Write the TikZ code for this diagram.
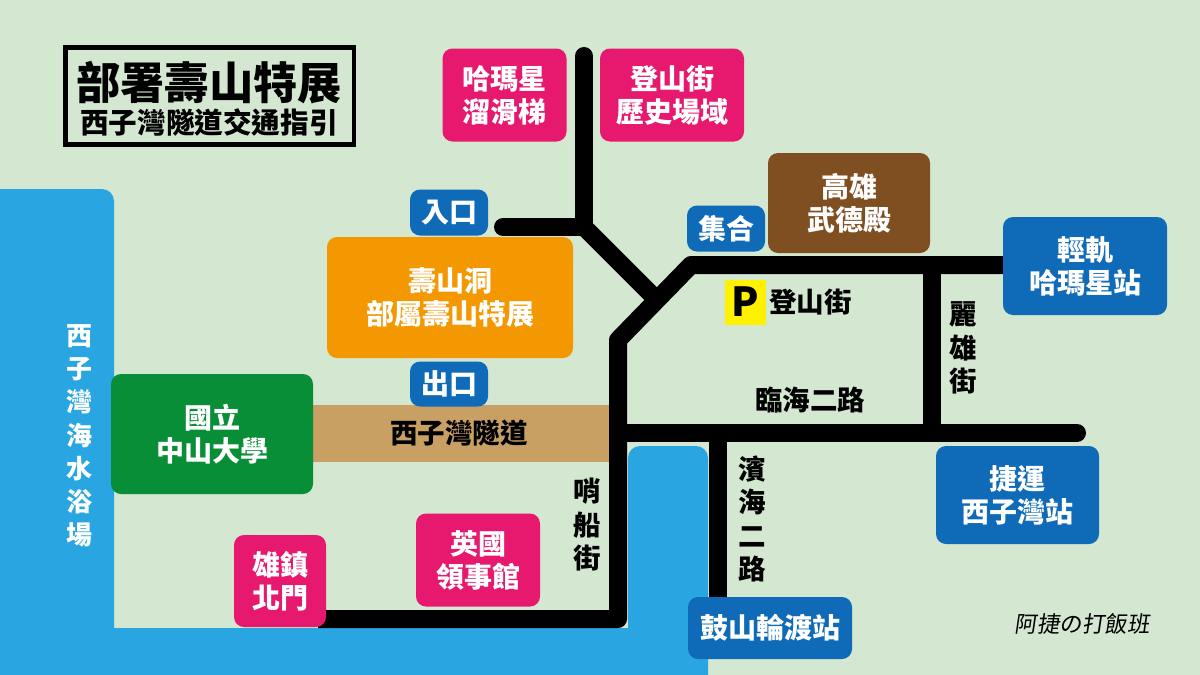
\documentclass[tikz,border=0pt]{standalone}
\usepackage{fontspec}
\setmainfont{Noto Sans CJK TC}
\newfontfamily\signfont[FakeSlant=0.15]{Noto Sans CJK TC}
\usetikzlibrary{backgrounds, positioning}
\definecolor{landcol}{HTML}{D3E7D1}
\definecolor{seacol}{HTML}{29A6E1}
\definecolor{pinkcol}{HTML}{E6196F}
\definecolor{bluecol}{HTML}{0F6BB8}
\definecolor{browncol}{HTML}{7F4F21}
\definecolor{orangecol}{HTML}{F39800}
\definecolor{greencol}{HTML}{078E36}
\definecolor{tancol}{HTML}{C8A063}
\definecolor{signcol}{HTML}{FFF100}
\tikzset{
    place/.style={rounded corners=10pt, inner sep=0pt, align=center, text=white,
        font=\fontsize{28}{33}\selectfont\bfseries},
    road/.style={line width=18pt, line join=round, black},
    streetname/.style={inner sep=0pt, align=center, text=black,
        font=\fontsize{27.5}{33.5}\selectfont\bfseries}
}
\begin{document}
\begin{tikzpicture}[x=1pt, y=-1pt]
    \useasboundingbox (0, 0) rectangle (1200, 675);
    % sea and tunnel
    \begin{scope}[on background layer]
        \fill[landcol] (0, 0) rectangle (1200, 675);
        \fill[seacol, rounded corners=12pt] (-30, 675) -- (-30, 189) -- (114, 189) -- (114, 660) -- cycle;
        \fill[seacol] (0, 628) rectangle (708, 675);
        \fill[seacol, rounded corners=12pt] (628, 690) -- (628, 446) -- (708, 446) -- (708, 690) -- cycle;
        \node[fill=tancol, minimum width=297pt, minimum height=57pt, inner sep=0pt] (tunnel) at (461.5, 433.5) {};
    \end{scope}
    \node[streetname] (tunnelname) at (459, 433) {西子灣隧道};
    % title
    \node[draw=black, line width=4.5pt, minimum width=288.5pt, minimum height=97pt] (titlebox) at (209.5, 96) {};
    \node[inner sep=0pt, font=\fontsize{44.2}{44}\selectfont\bfseries] (maintitle) at (209, 83) {部署壽山特展};
    \node[inner sep=0pt, font=\fontsize{28.6}{29}\selectfont\bfseries] (subtitle) at (209, 122) {西子灣隧道交通指引};
    % places
    \node[place, fill=pinkcol, minimum width=124pt, minimum height=93pt] (hamaslide) at (504.5, 95) {哈瑪星\\溜滑梯};
    \node[place, fill=pinkcol, minimum width=144pt, minimum height=93pt] (dengshan) at (672, 95) {登山街\\歷史場域};
    \node[place, fill=browncol, minimum width=162pt, minimum height=100pt] (wude) at (849, 203) {高雄\\武德殿};
    \node[place, fill=bluecol, minimum width=78pt, minimum height=46pt] (entry) at (449, 212.5) {入口};
    \node[place, fill=bluecol, minimum width=78pt, minimum height=46pt] (meet) at (726, 228.5) {集合};
    \node[place, fill=bluecol, minimum width=164pt, minimum height=98pt] (lrt) at (1085, 266) {輕軌\\哈瑪星站};
    \node[place, fill=orangecol, minimum width=246pt, minimum height=121pt] (cave) at (450, 297.5) {壽山洞\\部屬壽山特展};
    \node[place, fill=bluecol, minimum width=78pt, minimum height=45pt] (exit) at (449, 384) {出口};
    \node[place, fill=greencol, minimum width=202pt, minimum height=120pt] (nsysu) at (212, 434) {國立\\中山大學};
    \node[place, fill=bluecol, minimum width=163pt, minimum height=98pt] (mrt) at (1017.5, 495) {捷運\\西子灣站};
    \node[place, fill=pinkcol, minimum width=124pt, minimum height=93pt] (consulate) at (478, 560) {英國\\領事館};
    \node[place, fill=pinkcol, minimum width=92pt, minimum height=92pt] (gate) at (280, 581) {雄鎮\\北門};
    \node[place, fill=bluecol, minimum width=164pt, minimum height=62pt] (ferry) at (770, 628) {鼓山輪渡站};
    % roads
    \coordinate (topend) at (584, 56);
    \coordinate (branch) at (584, 227);
    \coordinate (entryend) at (503, 227);
    \coordinate (diagend) at (654, 297);
    \coordinate (bend) at (691, 265);
    \coordinate (shoulder) at (618, 340);
    \coordinate (junction) at (618, 433);
    \coordinate (corner) at (618, 619);
    \coordinate (gateend) at (318, 619);
    \coordinate (seaend) at (1077, 433);
    \coordinate (liend) at (932, 265);
    \coordinate (lijunction) at (932, 433);
    \coordinate (binjunction) at (718, 433);
    \begin{scope}[on background layer]
        \draw[road, line cap=round] (topend) -- (branch) -- (entryend);
        \draw[road] (branch) -- (diagend);
        \draw[road] (lrt.center |- bend) -- (bend) -- (shoulder) -- (corner) -- (gateend);
        \draw[road, line cap=round] (junction) -- (seaend);
        \draw[road] (liend) -- (lijunction);
        \draw[road] (binjunction) -- (ferry.center -| binjunction);
    \end{scope}
    % parking and street names
    \node[fill=signcol, minimum width=41pt, minimum height=45pt, inner sep=0pt, font=\fontsize{40}{40}\selectfont\bfseries] (parking) at (745.5, 302) {P};
    \node[streetname, right=3pt of parking] (dengname) {登山街};
    \node[streetname] (liname) at (963, 348) {麗\\雄\\街};
    \node[streetname] (linhai) at (810, 400) {臨海二路};
    \node[streetname] (binhai) at (752, 519) {濱\\海\\二\\路};
    \node[streetname] (shaochuan) at (587, 525) {哨\\船\\街};
    \node[place, font=\fontsize{26}{33.2}\selectfont\bfseries] (beach) at (79, 436) {西\\子\\灣\\海\\水\\浴\\場};
    \node[inner sep=0pt, font=\fontsize{22.5}{23}\selectfont\signfont] (signature) at (1082, 624) {阿捷の打飯班};
\end{tikzpicture}
\end{document}
